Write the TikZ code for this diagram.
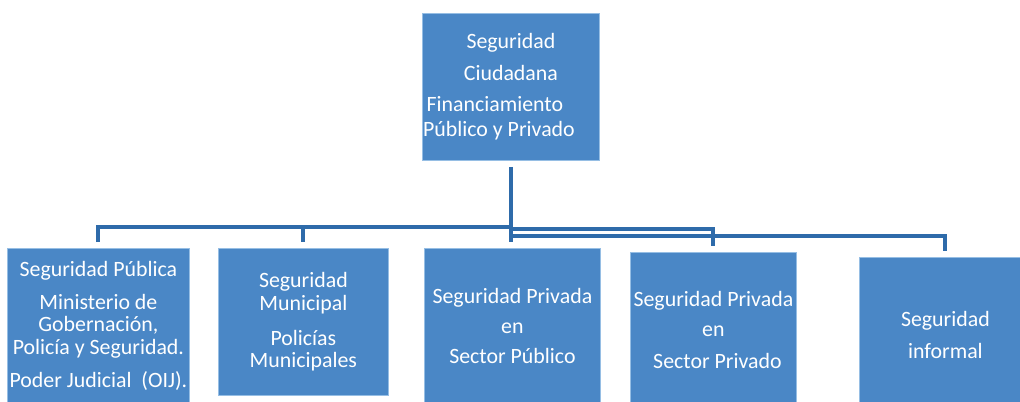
\documentclass[tikz,border=0pt]{standalone}
\usepackage{fontspec}
\setmainfont{Carlito}
\usetikzlibrary{positioning}

\definecolor{boxblue}{RGB}{74,135,198}
\definecolor{boxedge}{RGB}{150,190,228}
\definecolor{linkblue}{RGB}{46,107,170}

\begin{document}
\begin{tikzpicture}[x=0.75pt,y=-0.75pt,
    unit/.style={draw=boxedge, line width=0.6pt, fill=boxblue, text=white,
      anchor=north west, inner sep=0pt, align=center,
      font=\fontsize{16.4}{17}\selectfont},
    link/.style={draw=linkblue, line width=3pt}]
        \useasboundingbox (0,0) rectangle (1020,401);
        \clip (0,0) rectangle (1020,401);

        % Nodes
        \node[unit, minimum width=132.75pt, minimum height=110.25pt] (top) at (422,13)
            {Seguridad\\[7pt]Ciudadana\\[6.25pt]Financiamiento\hspace*{24pt}\null\\[1.75pt]P\'ublico y Privado\hspace*{18pt}\null};
        \node[unit, minimum width=136.5pt, minimum height=116.25pt] (b1) at (7,248)
            {Seguridad P\'ublica\\[7.75pt]Ministerio de\\Gobernaci\'on,\\Polic\'ia y Seguridad.\\[7.75pt]Poder Judicial\ \ (OIJ).};
        \node[unit, minimum width=127.5pt, minimum height=110.25pt] (b2) at (218,248)
            {Seguridad\\Municipal\\[9.25pt]Polic\'ias\\Municipales};
        \node[unit, minimum width=132pt, minimum height=116.25pt] (b3) at (424,248)
            {Seguridad Privada\\[5.5pt]en\\[5.5pt]Sector P\'ublico};
        \node[unit, minimum width=124.5pt, minimum height=116.25pt] (b4) at (630,252)
            {Seguridad Privada\\[5.5pt]en\\[7pt]\hspace*{6pt}Sector Privado};
        \node[unit, minimum width=129pt, minimum height=116.25pt] (b5) at (859,257)
            {Seguridad\\[7pt]informal};

        % Bus points
        \coordinate (busA) at (510,227);
        \coordinate (busB) at (510,229);
        \coordinate (busC) at (510,236);

        % Connectors
        \draw[link] ([yshift=-4.5pt]top.south) -- ([yshift=4.5pt]top.south |- b3.north);
        \draw[link] ([yshift=4.5pt]b1.north) |- (busA);
        \draw[link] (busA -| b2.north) -- ([yshift=4.5pt]b2.north);
        \draw[link] (busB) -| ([yshift=4.5pt]b4.north);
        \draw[link] (busC) -| ([yshift=4.5pt]b5.north);
    \end{tikzpicture}
\end{document}
